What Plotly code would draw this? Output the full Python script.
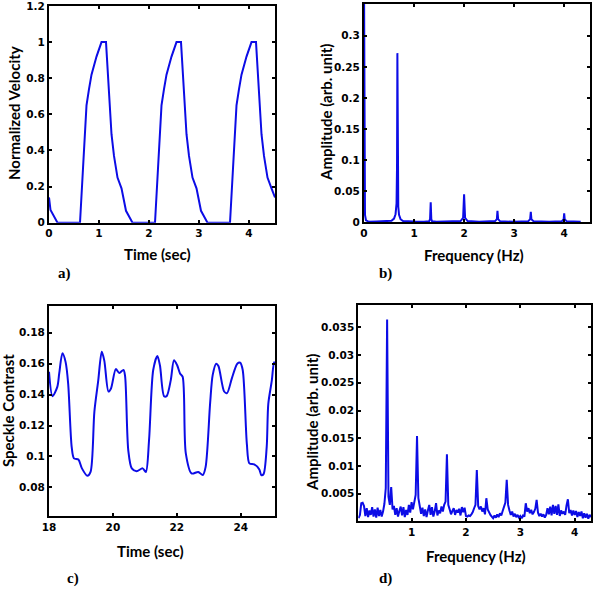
import numpy as np
import plotly.graph_objects as go

# ---------------- data ----------------
# a) normalized velocity
vel_t = [0.00, 0.03, 0.17, 0.62, 0.68, 0.75, 0.80, 0.85, 0.95, 1.02, 1.05, 1.14, 1.25, 1.30, 1.37, 1.45, 1.49, 1.54, 1.67,
         2.12, 2.18, 2.25, 2.30, 2.35, 2.45, 2.52, 2.55, 2.64, 2.75, 2.80, 2.87, 2.95, 2.99, 3.04, 3.17,
         3.62, 3.68, 3.75, 3.80, 3.85, 3.95, 4.02, 4.05, 4.14, 4.25, 4.30, 4.37, 4.45, 4.52]
vel_v = [0.14, 0.07, 0.00, 0.00, 0.30, 0.65, 0.74, 0.82, 0.92, 0.985, 1.00, 1.00, 0.49, 0.37, 0.25, 0.19, 0.14, 0.066, 0.00,
         0.00, 0.30, 0.65, 0.74, 0.82, 0.92, 0.985, 1.00, 1.00, 0.49, 0.37, 0.25, 0.19, 0.14, 0.066, 0.00,
         0.00, 0.30, 0.65, 0.74, 0.82, 0.92, 0.985, 1.00, 1.00, 0.49, 0.37, 0.25, 0.19, 0.14]

# b) spectrum of velocity
spec1_f = [0.00, 0.01, 0.02, 0.04, 0.10, 0.25, 0.45, 0.55, 0.60, 0.63, 0.65, 0.66, 0.667, 0.673, 0.685, 0.70, 0.73, 0.78,
           0.90, 0.99, 1.00, 1.01, 1.20, 1.30, 1.32, 1.333, 1.345, 1.36, 1.45, 1.70, 1.93, 1.98, 2.00, 2.02, 2.07,
           2.30, 2.62, 2.655, 2.667, 2.68, 2.72, 2.99, 3.00, 3.01, 3.28, 3.32, 3.333, 3.345, 3.39, 3.70, 3.95, 3.99,
           4.00, 4.01, 4.05, 4.33]
spec1_a = [0.40, 0.05, 0.012, 0.003, 0.0008, 0.0012, 0.0015, 0.0025, 0.006, 0.013, 0.03, 0.09, 0.272, 0.09, 0.025, 0.012,
           0.005, 0.002, 0.001, 0.0012, 0.003, 0.0012, 0.001, 0.0015, 0.005, 0.032, 0.005, 0.0015, 0.001, 0.001, 0.002,
           0.007, 0.045, 0.007, 0.002, 0.001, 0.002, 0.005, 0.0186, 0.005, 0.0015, 0.0008, 0.003, 0.0008, 0.0015,
           0.005, 0.017, 0.005, 0.0015, 0.0008, 0.0015, 0.005, 0.0145, 0.005, 0.0015, 0.0008]

# c) speckle contrast
sc_t = [18.00, 18.11, 18.26, 18.32, 18.42, 18.52, 18.60, 18.71, 18.78, 18.92, 19.03, 19.20, 19.30, 19.42, 19.54, 19.65,
        19.73, 19.86, 19.94, 20.09, 20.20, 20.33, 20.38, 20.48, 20.59, 20.74, 20.93, 21.03, 21.13, 21.26, 21.39, 21.47,
        21.60, 21.68, 21.81, 21.91, 22.01, 22.10, 22.18, 22.28, 22.46, 22.67, 22.81, 22.90, 23.04, 23.12, 23.23, 23.30,
        23.48, 23.57, 23.72, 23.89, 23.98, 24.06, 24.19, 24.27, 24.42, 24.58, 24.64, 24.71, 24.81, 24.86, 24.97, 25.04, 25.07]
sc_v = [0.1548, 0.139, 0.145, 0.1537, 0.1667, 0.161, 0.147, 0.106, 0.0988, 0.098, 0.0923, 0.0875, 0.090, 0.129, 0.149, 0.1677,
        0.162, 0.142, 0.144, 0.1565, 0.154, 0.156, 0.152, 0.104, 0.0923, 0.0905, 0.0923, 0.090, 0.1106, 0.1559, 0.165, 0.159,
        0.139, 0.139, 0.1494, 0.1623, 0.159, 0.1537, 0.1516, 0.102, 0.089, 0.090, 0.088, 0.0933, 0.1343, 0.1526, 0.160, 0.1585,
        0.142, 0.141, 0.1505, 0.160, 0.1606, 0.1559, 0.108, 0.0955, 0.0949, 0.0916, 0.088, 0.0885, 0.106, 0.134, 0.149, 0.161, 0.160]

# d) spectrum of speckle contrast
spec2_f = np.round(np.arange(1, 173) * 0.025, 3)
spec2_a = [0.0006, 0.0012, 0.0033, 0.0034, 0.0028, 0.0010, 0.0024, 0.0008, 0.0020, 0.0012, 0.0026, 0.0009, 0.0022, 0.0007,
           0.0025, 0.0010, 0.0021, 0.0009, 0.0018, 0.0032, 0.0060, 0.0364, 0.0045, 0.0030, 0.0062, 0.0022, 0.0028, 0.0012,
           0.0024, 0.0009, 0.0019, 0.0027, 0.0011, 0.0026, 0.0008, 0.0021, 0.0012, 0.0030, 0.0016, 0.0035, 0.0022, 0.0040,
           0.0048, 0.0154, 0.0042, 0.0028, 0.0014, 0.0025, 0.0010, 0.0022, 0.0008, 0.0020, 0.0030, 0.0012, 0.0026, 0.0009,
           0.0018, 0.0033, 0.0011, 0.0020, 0.0015, 0.0027, 0.0018, 0.0030, 0.0036, 0.0121, 0.0030, 0.0022, 0.0013, 0.0019,
           0.0024, 0.0012, 0.0021, 0.0016, 0.0023, 0.0011, 0.0026, 0.0017, 0.0025, 0.0010, 0.0009, 0.0011, 0.0010, 0.0013,
           0.0017, 0.0024, 0.0030, 0.0093, 0.0028, 0.0022, 0.0027, 0.0018, 0.0024, 0.0013, 0.0042, 0.0022, 0.0016, 0.0012,
           0.0009, 0.0006, 0.0011, 0.0007, 0.0013, 0.0008, 0.0015, 0.0011, 0.0019, 0.0026, 0.0034, 0.0075, 0.0030, 0.0020,
           0.0012, 0.0018, 0.0009, 0.0014, 0.0008, 0.0012, 0.0007, 0.0010, 0.0006, 0.0011, 0.0009, 0.0033, 0.0018, 0.0024,
           0.0015, 0.0021, 0.0013, 0.0017, 0.0023, 0.0039, 0.0016, 0.0010, 0.0014, 0.0009, 0.0013, 0.0007, 0.0012, 0.0024,
           0.0013, 0.0027, 0.0011, 0.0030, 0.0014, 0.0028, 0.0012, 0.0031, 0.0010, 0.0020, 0.0014, 0.0018, 0.0012, 0.0029,
           0.0040, 0.0015, 0.0021, 0.0011, 0.0020, 0.0012, 0.0019, 0.0008, 0.0017, 0.0010, 0.0018, 0.0006, 0.0015, 0.0007,
           0.0014, 0.0005, 0.0012, 0.0008]

W, H = 594, 589
BLUE = "rgb(12,12,230)"
TICKFONT = dict(family="DejaVu Sans", size=10.5, color="black", weight="bold")
TITLEFONT = dict(family="Lato", size=15, color="black", weight="bold")
LABFONT = dict(family="Liberation Serif", size=15, color="black", weight="bold")


def px_dom_x(a, b):
    return [a / W, b / W]


def px_dom_y(top, bottom):
    return [1 - bottom / H, 1 - top / H]


fig = go.Figure()
fig.add_trace(go.Scatter(x=vel_t, y=vel_v, mode="lines", line=dict(color=BLUE, width=2), xaxis="x", yaxis="y"))
fig.add_trace(go.Scatter(x=spec1_f, y=spec1_a, mode="lines", line=dict(color=BLUE, width=2), xaxis="x2", yaxis="y2"))
fig.add_trace(go.Scatter(x=sc_t, y=sc_v, mode="lines", line=dict(color=BLUE, width=2, shape="spline", smoothing=0.8),
                         xaxis="x3", yaxis="y3"))
fig.add_trace(go.Scatter(x=spec2_f, y=spec2_a, mode="lines", line=dict(color=BLUE, width=2), xaxis="x4", yaxis="y4"))

axcommon = dict(showline=True, linecolor="black", linewidth=2, mirror="allticks", ticks="inside", ticklen=3,
                tickwidth=1.5, tickcolor="black", showgrid=False, zeroline=False, tickfont=TICKFONT,
                ticklabeloverflow="allow", automargin=False)


def ticks(vals, texts):
    return dict(tickmode="array", tickvals=vals, ticktext=texts)


fig.update_layout(
    template="none",
    width=W, height=H, margin=dict(l=0, r=0, t=0, b=0, pad=0, autoexpand=False), showlegend=False,
    plot_bgcolor="white", paper_bgcolor="white",
    xaxis=dict(domain=px_dom_x(49, 275), range=[0, 4.52], anchor="y",
               **ticks([0, 1, 2, 3, 4], ["0", "1", "2", "3", "4"]), **axcommon),
    yaxis=dict(domain=px_dom_y(6, 222.7), range=[0, 1.2], anchor="x",
               **ticks([0, 0.2, 0.4, 0.6, 0.8, 1, 1.2], ["0", "0.2", "0.4", "0.6", "0.8", "1", "1.2"]), **axcommon),
    xaxis2=dict(domain=px_dom_x(364, 589.7), range=[0, 4.51], anchor="y2",
                **ticks([0, 1, 2, 3, 4], ["0", "1", "2", "3", "4"]), **axcommon),
    yaxis2=dict(domain=px_dom_y(4, 222.3), range=[0, 0.351], anchor="x2",
                **ticks([0, 0.05, 0.1, 0.15, 0.2, 0.25, 0.3], ["0", "0.05", "0.1", "0.15", "0.2", "0.25", "0.3"]),
                **axcommon),
    xaxis3=dict(domain=px_dom_x(49, 275), range=[18, 25.07], anchor="y3",
                **ticks([18, 20, 22, 24], ["18", "20", "22", "24"]), **axcommon),
    yaxis3=dict(domain=px_dom_y(305.7, 516), range=[0.0615, 0.1975], anchor="x3",
                **ticks([0.08, 0.1, 0.12, 0.14, 0.16, 0.18], ["0.08", "0.1", "0.12", "0.14", "0.16", "0.18"]),
                **axcommon),
    xaxis4=dict(domain=px_dom_x(358.3, 591), range=[0.02, 4.3], anchor="y4",
                **ticks([1, 2, 3, 4], ["1", "2", "3", "4"]), **axcommon),
    yaxis4=dict(domain=px_dom_y(305, 521), range=[0.0001, 0.039], anchor="x4",
                **ticks([0.005, 0.01, 0.015, 0.02, 0.025, 0.03, 0.035],
                        ["0.005", "0.01", "0.015", "0.02", "0.025", "0.03", "0.035"]), **axcommon),
)


def ann(text, x, y, font, angle=0):
    fig.add_annotation(text=text, x=x / W, y=1 - y / H, xref="paper", yref="paper", showarrow=False,
                       xanchor="center", yanchor="middle", font=font, textangle=angle)


ann("Normalized Velocity", 14, 113, TITLEFONT, -90)
ann("Time (sec)", 157, 254, TITLEFONT)
ann("a)", 64, 273, LABFONT)
ann("Amplitude (arb. unit)", 326, 113, TITLEFONT, -90)
ann("Frequency (Hz)", 474, 255, TITLEFONT)
ann("b)", 385, 273, LABFONT)
ann("Speckle Contrast", 8, 411, TITLEFONT, -90)
ann("Time (sec)", 150, 551, TITLEFONT)
ann("c)", 73, 578, LABFONT)
ann("Amplitude (arb. unit)", 312, 423, TITLEFONT, -90)
ann("Frequency (Hz)", 476, 556, TITLEFONT)
ann("d)", 385, 578, LABFONT)

fig.write_html("out.html", config={"displayModeBar": False},
               post_script="document.body.style.margin='0px';")
